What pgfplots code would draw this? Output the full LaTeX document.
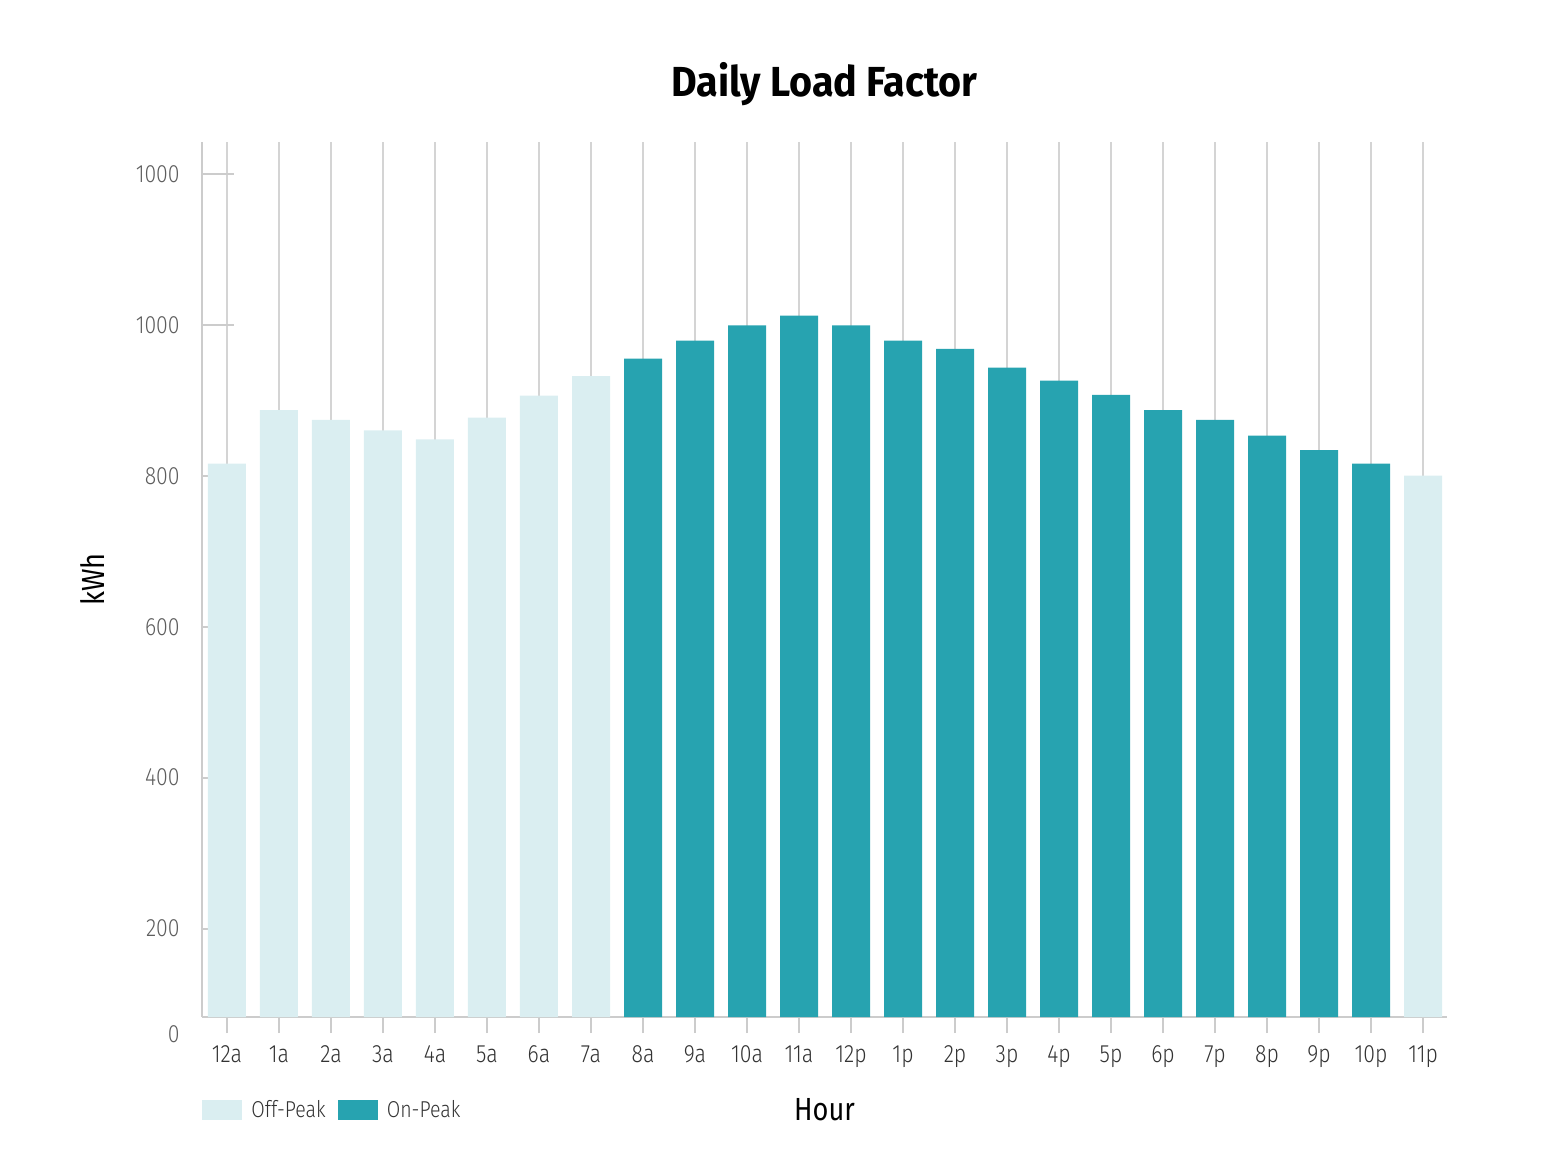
\documentclass[border=0pt]{standalone}
\usepackage{fontspec}
\setmainfont{Fira Sans Light}[FakeStretch=0.85]
\newfontfamily\regfont{Fira Sans}[FakeStretch=0.85]
\newfontfamily\boldfont{Fira Sans Bold}[FakeStretch=0.94]
\usepackage{pgfplots}
\pgfplotsset{compat=1.18}

\definecolor{offpeak}{HTML}{DAEEF1}
\definecolor{onpeak}{HTML}{27A3B0}
\definecolor{gridgray}{HTML}{D4D4D4}
\definecolor{axisgray}{HTML}{CCCCCC}
\definecolor{ylabgray}{HTML}{5E5E5E}
\definecolor{xlabgray}{HTML}{333333}

\begin{document}
\begin{tikzpicture}
% 1 px of the reference = 0.5pt
\path[use as bounding box] (-101pt,-65.5pt) rectangle (680pt,508.5pt);
\begin{axis}[
  name=ax,
  at={(0,0)}, anchor=south west,
  scale only axis, width=622.5pt, height=437.5pt,
  ybar, bar width=19pt, bar shift=0pt,
  xmin=-0.48, xmax=23.46, ymin=83, ymax=1242,
  axis x line*=bottom, axis y line*=left,
  axis line style={draw=axisgray, line width=1pt, -},
  xtick={0,...,23},
  xticklabels={12a,1a,2a,3a,4a,5a,6a,7a,8a,9a,10a,11a,12p,1p,2p,3p,4p,5p,6p,7p,8p,9p,10p,11p},
  ytick={200,400,600,800,1000,1200},
  yticklabels={200,400,600,800,1000,1000},
  xmajorgrids, grid style={draw=gridgray, line width=0.75pt},
  % x ticks centred on the axis: the upper half hides in the grid line
  xtick align=center, ytick align=inside,
  tick style={draw=axisgray, line width=1pt},
  major tick length=16pt,
  xticklabel style={font=\fontsize{12.5}{14}\selectfont, text=xlabgray, anchor=base, yshift=-14.5pt},
  yticklabel style={font=\fontsize{12.5}{14}\selectfont, text=ylabgray, anchor=east, inner sep=0pt, xshift=-11pt},
  title={Daily Load Factor},
  title style={font=\boldfont\fontsize{21}{24}\selectfont, at={(axis description cs:0.5,1)}, anchor=base, yshift=17pt},
  xlabel={Hour},
  xlabel style={font=\regfont\fontsize{16}{18}\selectfont, at={(axis description cs:0.5,0)}, anchor=base, yshift=-51.5pt},
  ylabel={kWh},
  ylabel style={font=\regfont\fontsize{16}{18}\selectfont, at={(axis description cs:-0.0787,0.5)}, anchor=base},
  legend columns=-1,
  legend image code/.code={\fill[#1] (0pt,-5pt) rectangle (20pt,5pt);},
  legend style={at={(axis description cs:0,0)}, anchor=west, yshift=-46.5pt,
    draw=none, fill=none, inner sep=0pt,
    font=\fontsize{11.5}{13}\selectfont, text=xlabgray,
    nodes={inner sep=0pt},
    /tikz/every odd column/.append style={column sep=4.5pt},
    /tikz/every even column/.append style={column sep=6pt}},
]
\addplot[fill=offpeak, draw=none] coordinates {
  (0,816) (1,887) (2,874) (3,860) (4,848) (5,877) (6,906) (7,932) (23,800)};
\addlegendentry{Off-Peak}
\addplot[fill=onpeak, draw=none] coordinates {
  (8,955) (9,979) (10,999) (11,1012) (12,999) (13,979) (14,968) (15,943)
  (16,926) (17,907) (18,887) (19,874) (20,853) (21,834) (22,816)};
\addlegendentry{On-Peak}
\end{axis}
\node[anchor=base east, inner sep=0pt, font=\fontsize{12.5}{14}\selectfont, text=ylabgray]
  at ([xshift=-11pt, yshift=-12.5pt]ax.south west) {0};
\end{tikzpicture}
\end{document}
